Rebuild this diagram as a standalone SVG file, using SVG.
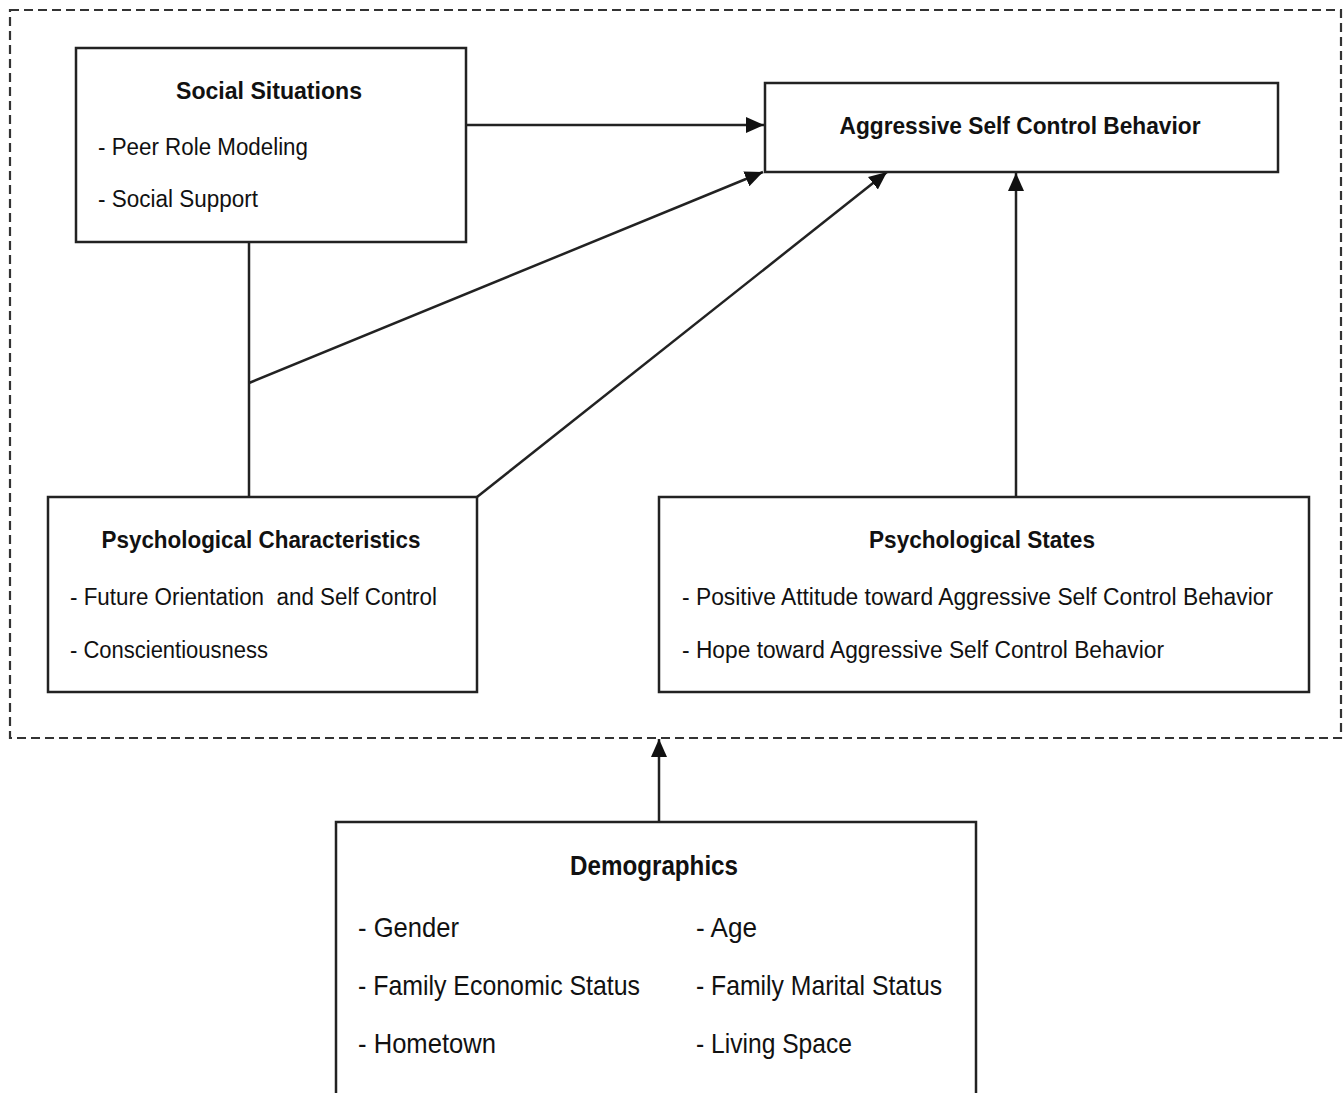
<svg xmlns="http://www.w3.org/2000/svg" width="1344" height="1093" viewBox="0 0 1344 1093">
<style>
.box{fill:#fff;stroke:#222;stroke-width:2.5}
.t{font-family:"Liberation Sans",Arial,sans-serif;font-weight:bold;font-size:24px;fill:#111}
.i{font-family:"Liberation Sans",Arial,sans-serif;font-size:23px;fill:#111}
.dt{font-family:"Liberation Sans",Arial,sans-serif;font-weight:bold;font-size:28px;fill:#111}
.di{font-family:"Liberation Sans",Arial,sans-serif;font-size:28px;fill:#111}
.c{fill:none;stroke:#222;stroke-width:2.5}
.frame{fill:none;stroke:#333;stroke-width:2.2;stroke-dasharray:9 5}
</style>
<defs>
<marker id="ah" markerUnits="userSpaceOnUse" markerWidth="18" markerHeight="16" refX="18" refY="8" orient="auto">
<path d="M0,0 L18,8 L0,16 z" fill="#111"/>
</marker>
</defs>
<rect width="1344" height="1093" fill="#fff"/>
<rect class="frame" x="10" y="10" width="1331" height="728"/>

<g id="connectors">
<line class="c" x1="466" y1="125" x2="764" y2="125" marker-end="url(#ah)"/>
<line class="c" x1="249" y1="242" x2="249" y2="497"/>
<line class="c" x1="249" y1="383" x2="763" y2="172" marker-end="url(#ah)"/>
<line class="c" x1="477" y1="497" x2="887" y2="172" marker-end="url(#ah)"/>
<line class="c" x1="1016" y1="497" x2="1016" y2="173" marker-end="url(#ah)"/>
<line class="c" x1="659" y1="822" x2="659" y2="739" marker-end="url(#ah)"/>
</g>

<g id="social-situations">
<rect class="box" x="76" y="48" width="390" height="194"/>
<text class="t" x="269" y="99" text-anchor="middle" textLength="186" lengthAdjust="spacingAndGlyphs">Social Situations</text>
<text class="i" x="98" y="155" textLength="210" lengthAdjust="spacingAndGlyphs">- Peer Role Modeling</text>
<text class="i" x="98" y="207" textLength="160" lengthAdjust="spacingAndGlyphs">- Social Support</text>
</g>

<g id="aggressive-self-control-behavior">
<rect class="box" x="765" y="83" width="513" height="89"/>
<text class="t" x="1020" y="134" text-anchor="middle" textLength="361" lengthAdjust="spacingAndGlyphs">Aggressive Self Control Behavior</text>
</g>

<g id="psychological-characteristics">
<rect class="box" x="48" y="497" width="429" height="195"/>
<text class="t" x="261" y="548" text-anchor="middle" textLength="319" lengthAdjust="spacingAndGlyphs">Psychological Characteristics</text>
<text class="i" x="70" y="605" xml:space="preserve" textLength="367" lengthAdjust="spacingAndGlyphs">- Future Orientation  and Self Control</text>
<text class="i" x="70" y="658" textLength="198" lengthAdjust="spacingAndGlyphs">- Conscientiousness</text>
</g>

<g id="psychological-states">
<rect class="box" x="659" y="497" width="650" height="195"/>
<text class="t" x="982" y="548" text-anchor="middle" textLength="226" lengthAdjust="spacingAndGlyphs">Psychological States</text>
<text class="i" x="682" y="605" textLength="591" lengthAdjust="spacingAndGlyphs">- Positive Attitude toward Aggressive Self Control Behavior</text>
<text class="i" x="682" y="658" textLength="482" lengthAdjust="spacingAndGlyphs">- Hope toward Aggressive Self Control Behavior</text>
</g>

<g id="demographics">
<rect class="box" x="336" y="822" width="640" height="280"/>
<text class="dt" x="654" y="875" text-anchor="middle" textLength="168" lengthAdjust="spacingAndGlyphs">Demographics</text>
<text class="di" x="358" y="937" textLength="101" lengthAdjust="spacingAndGlyphs">- Gender</text>
<text class="di" x="358" y="995" textLength="282" lengthAdjust="spacingAndGlyphs">- Family Economic Status</text>
<text class="di" x="358" y="1053" textLength="138" lengthAdjust="spacingAndGlyphs">- Hometown</text>
<text class="di" x="696" y="937" textLength="61" lengthAdjust="spacingAndGlyphs">- Age</text>
<text class="di" x="696" y="995" textLength="246" lengthAdjust="spacingAndGlyphs">- Family Marital Status</text>
<text class="di" x="696" y="1053" textLength="156" lengthAdjust="spacingAndGlyphs">- Living Space</text>
</g>
</svg>
